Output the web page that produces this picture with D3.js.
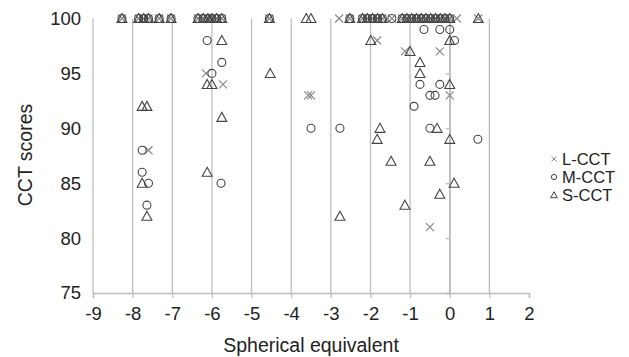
<!DOCTYPE html>
<html>
<head>
<meta charset="utf-8">
<script src="https://cdn.jsdelivr.net/npm/d3@7"></script>
<style>
  body { margin: 0; background: #fff; }
  text { font-family: "Liberation Sans", Arial, sans-serif; fill: #222; }
</style>
</head>
<body>
<div id="chart"></div>
<script>
// x ticks and y ticks
const xTicks = [-9, -8, -7, -6, -5, -4, -3, -2, -1, 0, 1, 2];
const yTicks = [75, 80, 85, 90, 95, 100];
const seriesNames = ['L-CCT', 'M-CCT', 'S-CCT'];

// L-CCT points [spherical equivalent, score]
const lcct = [
  [-8.27,100],[-7.85,100],[-7.72,100],[-7.6,100],[-7.33,100],[-7.03,100],
  [-6.35,100],[-6.22,100],[-6.1,100],[-6.0,100],[-5.88,100],[-5.75,100],
  [-4.55,100],[-2.79,100],[-2.52,100],[-2.2,100],[-2.08,100],[-1.95,100],
  [-1.82,100],[-1.7,100],[-1.46,100],[-1.2,100],[-1.08,100],[-0.96,100],
  [-0.84,100],[-0.72,100],[-0.6,100],[-0.48,100],[-0.36,100],[-0.24,100],
  [-0.12,100],[0.0,100],[0.18,100],[0.72,100],
  [-6.15,95],[-5.72,94],[-7.6,88],[-1.83,98],[-1.13,97],[-0.25,97],
  [-3.57,93],[-3.5,93],[0.0,93],[-0.5,81]
];

// M-CCT points
const mcct = [
  [-8.27,100],[-7.85,100],[-7.72,100],[-7.6,100],[-7.33,100],[-7.03,100],
  [-6.35,100],[-6.22,100],[-6.1,100],[-6.0,100],[-5.88,100],[-5.75,100],
  [-4.55,100],[-2.52,100],[-2.2,100],[-2.08,100],[-1.95,100],[-1.82,100],
  [-1.7,100],[-1.46,100],[-1.2,100],[-1.08,100],[-0.96,100],[-0.84,100],
  [-0.72,100],[-0.6,100],[-0.48,100],[-0.36,100],[-0.24,100],[-0.12,100],
  [0.0,100],
  [-6.12,98],[-5.75,96],[-6.0,95],[-7.76,88],[-7.76,86],[-7.6,85],
  [-7.64,83],[-5.77,85],[-0.65,99],[-0.25,99],[0.0,99],[0.12,98],
  [-0.75,94],[-0.25,94],[-0.5,93],[-0.37,93],[-0.9,92],[-3.5,90],
  [-2.77,90],[-0.5,90],[0.71,89]
];

// S-CCT points
const scct = [
  [-8.27,100],[-7.85,100],[-7.72,100],[-7.6,100],[-7.33,100],[-7.03,100],
  [-6.35,100],[-6.22,100],[-6.1,100],[-6.0,100],[-5.88,100],[-5.75,100],
  [-4.55,100],[-3.62,100],[-3.5,100],[-2.52,100],[-2.2,100],[-2.08,100],
  [-1.95,100],[-1.82,100],[-1.7,100],[-1.2,100],[-1.08,100],[-0.96,100],
  [-0.84,100],[-0.72,100],[-0.6,100],[-0.48,100],[-0.36,100],[-0.24,100],
  [-0.12,100],[0.0,100],[0.72,100],
  [-5.75,98],[-6.12,94],[-6.0,94],[-7.76,92],[-7.64,92],[-5.75,91],
  [-7.76,85],[-7.64,82],[-6.12,86],[-4.53,95],[-1.99,98],[0.0,98],
  [-1.0,97],[-0.75,96],[-0.75,95],[0.0,94],[-1.76,90],[-1.83,89],
  [-0.32,90],[0.0,89],[-1.48,87],[-0.5,87],[0.11,85],[-0.25,84],
  [-1.13,83],[-2.77,82]
];

const width = 629, height = 357;
const svg = d3.select('#chart').append('svg')
  .attr('width', width).attr('height', height);

const x = d3.scaleLinear().domain([-9, 2]).range([93, 529]);
const y = d3.scaleLinear().domain([75, 100]).range([293, 18.5]);

const gridColor = '#bdbdbd';

// vertical grid lines
svg.append('g').selectAll('line')
  .data(xTicks.filter(d => d < 2))
  .enter().append('line')
  .attr('x1', d => x(d)).attr('x2', d => x(d))
  .attr('y1', y(100)).attr('y2', y(75))
  .attr('stroke', gridColor).attr('stroke-width', 1.3);

// bottom axis
const xAxis = svg.append('g')
  .attr('transform', `translate(0,${y(75)})`)
  .call(d3.axisBottom(x).tickValues(xTicks).tickSize(5).tickPadding(9)
    .tickFormat(d => String(d)));
xAxis.selectAll('path, line').attr('stroke', gridColor).attr('stroke-width', 1.3);
xAxis.selectAll('text').style('font-size', '18.5px')
  .style('font-family', '"Liberation Sans", Arial, sans-serif').attr('fill', '#222');

// left labels (at x = -9)
const yLab = svg.append('g')
  .attr('transform', `translate(${x(-9)},0)`)
  .call(d3.axisLeft(y).tickValues(yTicks).tickSize(0).tickPadding(12));
yLab.select('.domain').remove();
yLab.selectAll('text').style('font-size', '18.5px')
  .style('font-family', '"Liberation Sans", Arial, sans-serif').attr('fill', '#222');

// value axis crossing at x = 0
const yAx = svg.append('g')
  .attr('transform', `translate(${x(0)},0)`)
  .call(d3.axisLeft(y).tickValues(yTicks).tickSize(4).tickFormat(''));
yAx.selectAll('path, line').attr('stroke', gridColor).attr('stroke-width', 1.3);

// axis titles
svg.append('text')
  .attr('x', (x(-9) + x(2)) / 2).attr('y', 352)
  .attr('text-anchor', 'middle').style('font-size', '19.5px')
  .text('Spherical equivalent');
svg.append('text')
  .attr('transform', `translate(32,155) rotate(-90)`)
  .attr('text-anchor', 'middle').style('font-size', '19.5px')
  .text('CCT scores');

const darkStroke = '#444';
const lightStroke = '#8a8a8a';
const triPath = s => `M0,${-s * 0.55}L${s * 0.55},${s * 0.45}L${-s * 0.55},${s * 0.45}Z`;
const crossPath = s => `M${-s / 2},${-s / 2}L${s / 2},${s / 2}M${-s / 2},${s / 2}L${s / 2},${-s / 2}`;

const plot = svg.append('g');

// L-CCT crosses
plot.append('g').selectAll('path')
  .data(lcct).enter().append('path')
  .attr('transform', d => `translate(${x(d[0])},${y(d[1])})`)
  .attr('d', crossPath(8))
  .attr('fill', 'none').attr('stroke', lightStroke).attr('stroke-width', 1.2);

// M-CCT circles
plot.append('g').selectAll('circle')
  .data(mcct).enter().append('circle')
  .attr('cx', d => x(d[0])).attr('cy', d => y(d[1])).attr('r', 4)
  .attr('fill', 'none').attr('stroke', darkStroke).attr('stroke-width', 1.1);

// S-CCT triangles
plot.append('g').selectAll('path')
  .data(scct).enter().append('path')
  .attr('transform', d => `translate(${x(d[0])},${y(d[1])})`)
  .attr('d', triPath(9))
  .attr('fill', 'none').attr('stroke', darkStroke).attr('stroke-width', 1.1);

// legend
const legend = svg.append('g');
const legY = [159, 177, 195];
seriesNames.forEach((name, i) => {
  const g = legend.append('g').attr('transform', `translate(554,${legY[i]})`);
  if (i === 0) {
    g.append('path').attr('d', crossPath(5)).attr('fill', 'none')
      .attr('stroke', lightStroke).attr('stroke-width', 1);
  } else if (i === 1) {
    g.append('circle').attr('r', 2.6).attr('fill', 'none')
      .attr('stroke', darkStroke).attr('stroke-width', 1);
  } else {
    g.append('path').attr('d', triPath(6)).attr('fill', 'none')
      .attr('stroke', darkStroke).attr('stroke-width', 1);
  }
  g.append('text').attr('x', 8).attr('dy', '0.36em')
    .style('font-size', '16.5px').text(name);
});
</script>
</body>
</html>
